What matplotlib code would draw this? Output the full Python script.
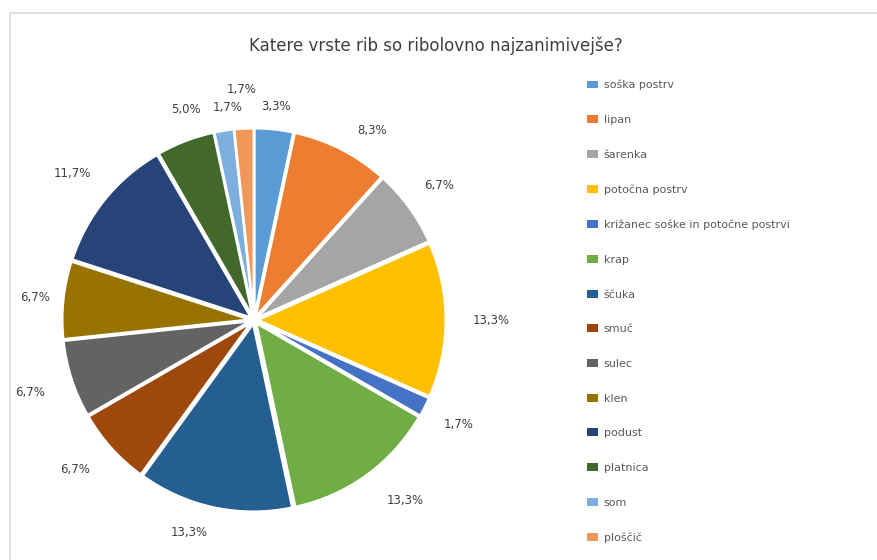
import matplotlib.pyplot as plt
import matplotlib.patches as mpatches
import numpy as np

# podatki (stevilo odgovorov, n = 60)
vrste = ['soška postrv', 'lipan', 'šarenka', 'potočna postrv',
         'križanec soške in potočne postrvi', 'krap', 'ščuka', 'smuč',
         'sulec', 'klen', 'podust', 'platnica', 'som', 'ploščič']
odgovori = [2, 5, 4, 8, 1, 8, 8, 4, 4, 4, 7, 3, 1, 1]
barve = ['#5B9BD5', '#ED7D31', '#A5A5A5', '#FFC000', '#4472C4', '#70AD47',
         '#255E91', '#9E480E', '#636363', '#997300', '#264478', '#43682B',
         '#7CAFDD', '#F1975A']

fig = plt.figure(figsize=(8.77, 5.6), dpi=100)
W, H = 877, 560

# okvir grafa
fig.patches.append(mpatches.Rectangle((10 / W, -0.1), 1.2, (H - 13) / H + 0.1,
                                      transform=fig.transFigure, fill=False,
                                      edgecolor='#D9D9D9', linewidth=1.2))

# os za torto: sredisce (254, 320) px, 1 enota = 188 px
lim = 1.3
cx, cy, unit = 254, 320, 188
half = lim * unit
ax = fig.add_axes([(cx - half) / W, (H - cy - half) / H, 2 * half / W, 2 * half / H])

wedges, _ = ax.pie(odgovori, colors=barve, startangle=90, counterclock=False,
                   explode=[0.02] * len(odgovori),
                   wedgeprops=dict(edgecolor='white', linewidth=1.8))
ax.set_xlim(-lim, lim)
ax.set_ylim(-lim, lim)
ax.set_aspect('equal')
ax.axis('off')

skupaj = sum(odgovori)
# oznake odstotkov (razdalja od sredisca, kot kot v excelu "best fit")
razdalje = [1.14, 1.19, 1.22, 1.26, 1.22, 1.25, 1.18, 1.24, 1.25, 1.17, 1.24, 1.18, 1.14, 1.23]
zamiki = [0, -5, 0, 0, 0, 4, -5, -2, 0, 0, 0, -3, -2, 0]
for w, n, r, z in zip(wedges, odgovori, razdalje, zamiki):
    kot = np.deg2rad((w.theta1 + w.theta2) / 2 + z)
    besedilo = f'{100 * n / skupaj:.1f}%'.replace('.', ',')
    ax.text(r * np.cos(kot), r * np.sin(kot), besedilo, ha='center', va='center',
            fontsize=8.5, color='#404040')

fig.text(436 / W, 1 - 46 / H, 'Katere vrste rib so ribolovno najzanimivejše?',
         ha='center', va='center', fontsize=12, color='#404040')

ročke = [mpatches.Patch(facecolor=b, edgecolor='none') for b in barve]
leg = fig.legend(ročke, vrste, loc='upper left', bbox_to_anchor=(587 / W, 1 - 80 / H),
                 frameon=False, fontsize=8, labelspacing=2.22, handlelength=1.0,
                 handleheight=0.7, handletextpad=0.5, borderaxespad=0, borderpad=0)
for t in leg.get_texts():
    t.set_color('#595959')

fig.savefig('out.png', dpi=100)
